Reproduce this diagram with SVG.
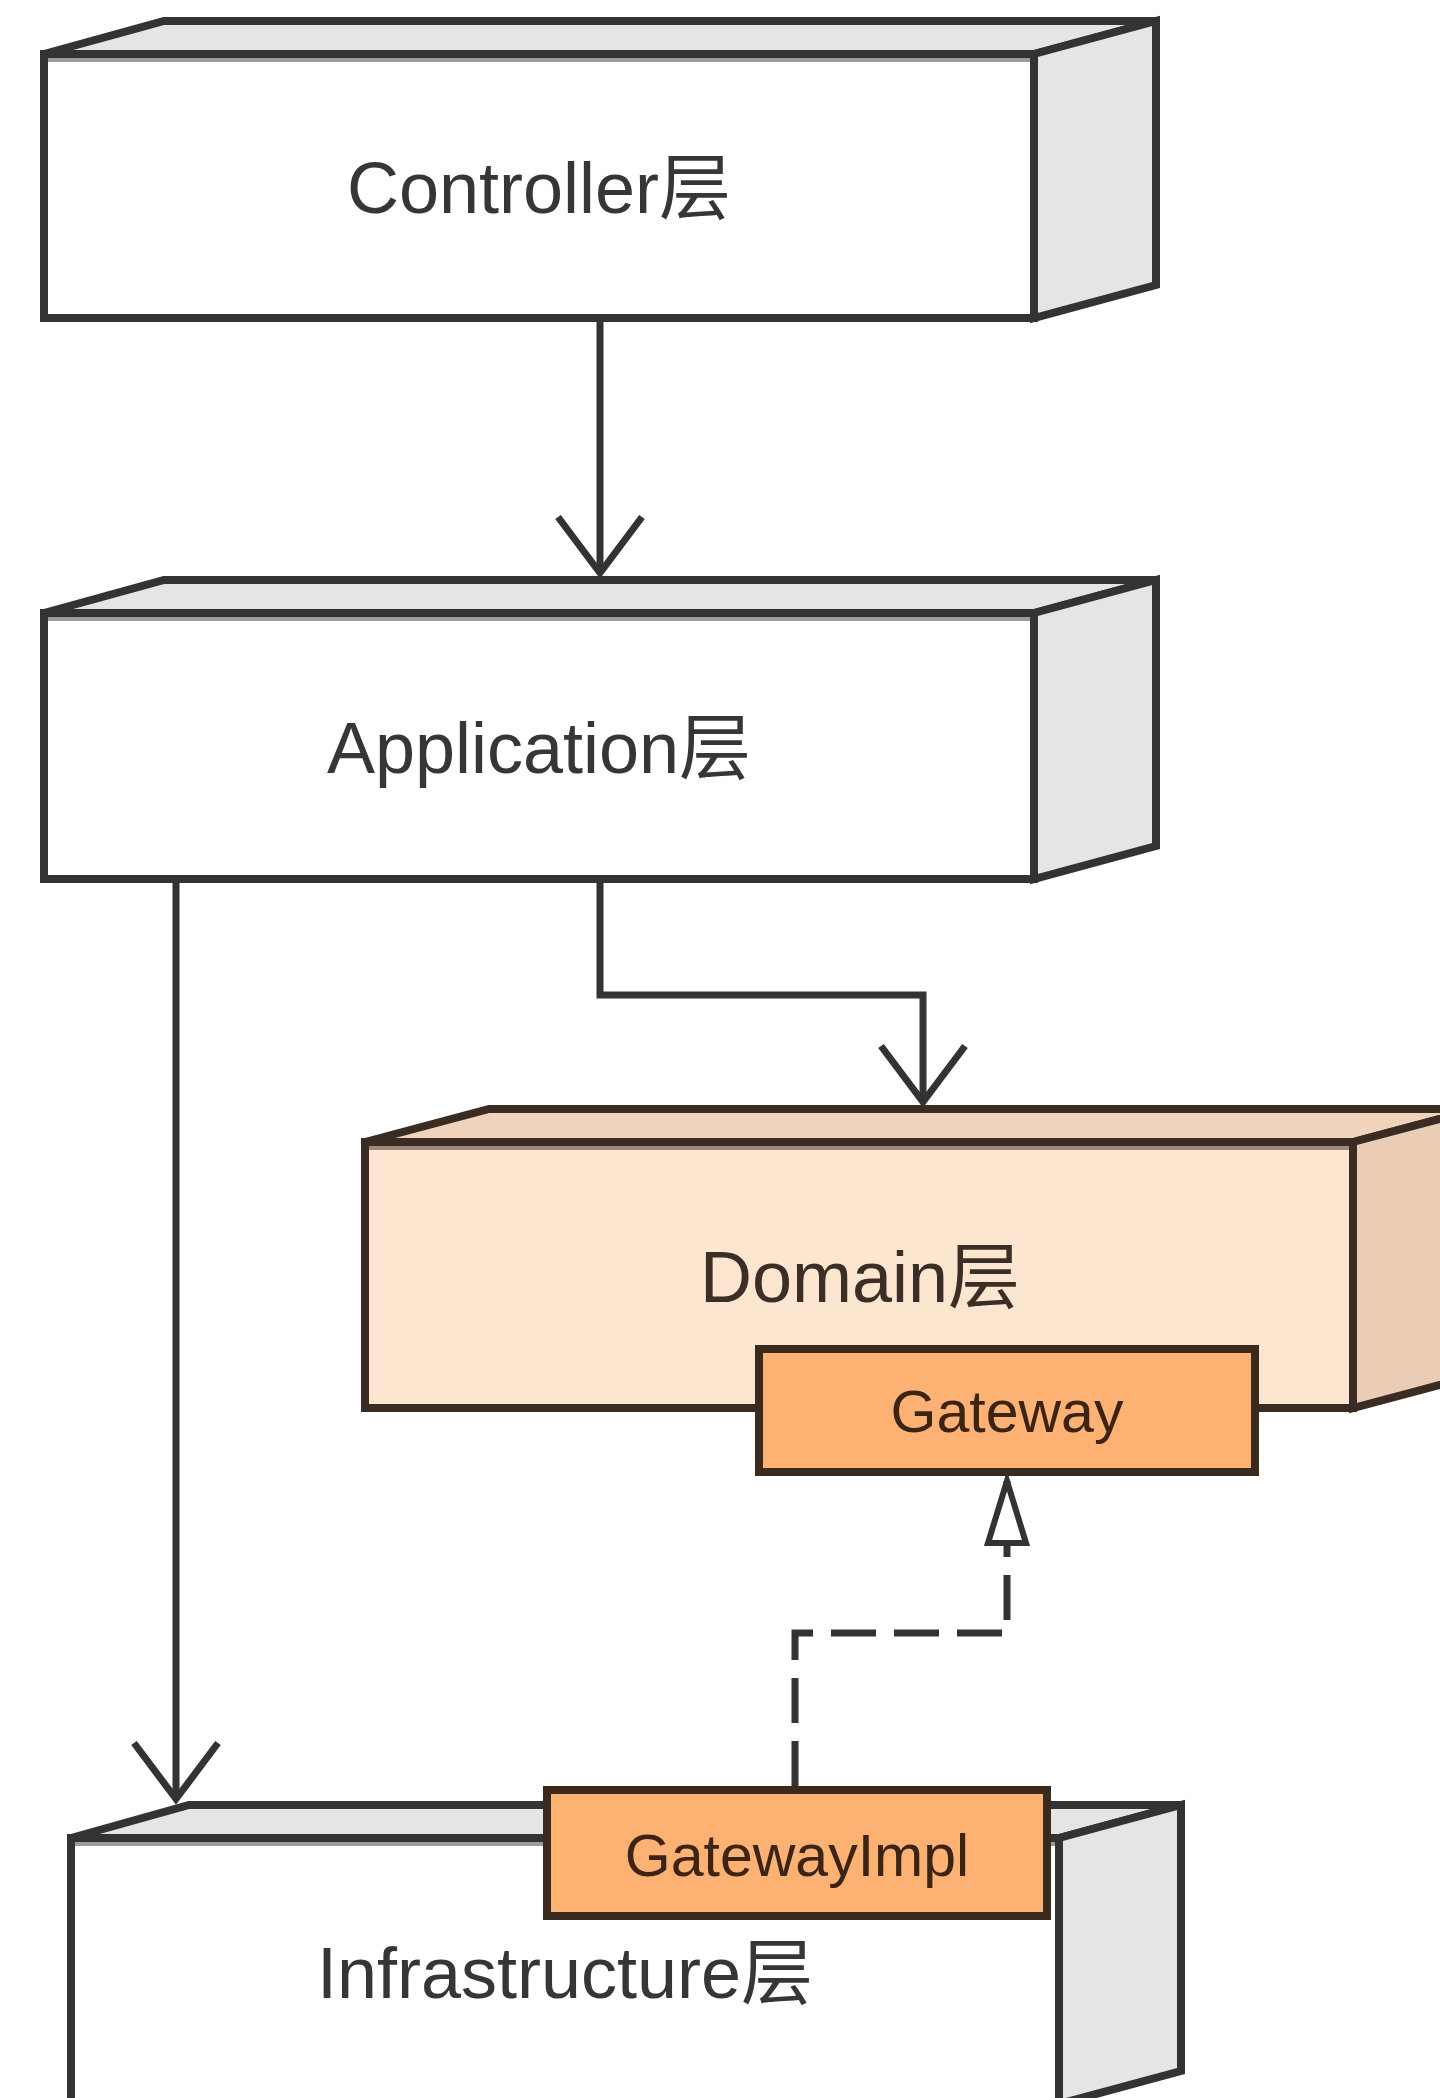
<svg xmlns="http://www.w3.org/2000/svg" width="1440" height="2098" viewBox="0 0 1440 2098">
  <style>
    .front { fill: #ffffff; stroke: #333333; stroke-width: 8; stroke-linejoin: miter; }
    .side { fill: #e5e5e5; stroke: #333333; stroke-width: 8; stroke-linejoin: miter; }
    .band { stroke: #9c9c9c; stroke-width: 4; }
    .d-front { fill: #fde6d0; stroke: #3a2c23; stroke-width: 8; stroke-linejoin: miter; }
    .d-top { fill: #f0d3bc; stroke: #3a2c23; stroke-width: 8; stroke-linejoin: miter; }
    .d-right { fill: #eacdb4; stroke: #3a2c23; stroke-width: 8; stroke-linejoin: miter; }
    .d-band { stroke: #9e8a7c; stroke-width: 4; }
    .port { fill: #fdb274; stroke: #3a2a1e; stroke-width: 8; }
    .label { font-family: "Liberation Sans", "Noto Sans CJK SC", sans-serif; font-size: 72px; fill: #363636; text-anchor: middle; }
    .d-label { fill: #3b2e26; }
    .port-label { font-family: "Liberation Sans", "Noto Sans CJK SC", sans-serif; font-size: 59px; fill: #3b2414; text-anchor: middle; }
    .conn { fill: none; stroke: #333333; stroke-width: 7; }
    .dashed { stroke-dasharray: 45 18; }
  </style>
  <defs>
    <marker id="open-arrow" markerUnits="userSpaceOnUse" viewBox="-64 -50 72 100" markerWidth="72" markerHeight="100" refX="0" refY="0" orient="auto" overflow="visible">
      <path d="M -56 -42 L 0 0 L -56 42" fill="none" stroke="#333333" stroke-width="7" stroke-linejoin="miter"/>
    </marker>
    <marker id="hollow-triangle" markerUnits="userSpaceOnUse" viewBox="-70 -30 80 60" markerWidth="80" markerHeight="60" refX="0" refY="0" orient="auto" overflow="visible">
      <path d="M 0 0 L -62 -19 L -62 19 Z" fill="#ffffff" stroke="#333333" stroke-width="6" stroke-linejoin="miter"/>
    </marker>
  </defs>

  <rect width="1440" height="2098" fill="#ffffff"/>

  <!-- Controller layer -->
  <g id="controller">
    <polygon class="side" points="44,54 164,21 1156,21 1034,54"/>
    <polygon class="side" points="1034,54 1156,21 1156,285 1034,318"/>
    <rect class="front" x="44" y="54" width="990" height="264"/>
    <line class="band" x1="48" y1="60" x2="1030" y2="60"/>
    <text class="label" x="539" y="213">Controller层</text>
  </g>

  <!-- Application layer -->
  <g id="application">
    <polygon class="side" points="44,613 164,580 1156,580 1034,613"/>
    <polygon class="side" points="1034,613 1156,580 1156,846 1034,879"/>
    <rect class="front" x="44" y="613" width="990" height="266"/>
    <line class="band" x1="48" y1="619" x2="1030" y2="619"/>
    <text class="label" x="539" y="773">Application层</text>
  </g>

  <!-- Domain layer with its Gateway port -->
  <g id="domain">
    <polygon class="d-top" points="365,1142 489,1109 1477,1109 1353,1142"/>
    <polygon class="d-right" points="1353,1142 1477,1109 1477,1375 1353,1408"/>
    <rect class="d-front" x="365" y="1142" width="988" height="266"/>
    <line class="d-band" x1="369" y1="1148" x2="1349" y2="1148"/>
    <text class="label d-label" x="860" y="1302">Domain层</text>
  </g>
  <g id="gateway">
    <rect class="port" x="759" y="1349" width="496" height="123"/>
    <text class="port-label" x="1007" y="1432">Gateway</text>
  </g>

  <!-- Infrastructure layer with its GatewayImpl port -->
  <g id="infrastructure">
    <polygon class="side" points="71,1838 189,1805 1181,1805 1059,1838"/>
    <polygon class="side" points="1059,1838 1181,1805 1181,2071 1059,2104"/>
    <rect class="front" x="71" y="1838" width="988" height="266"/>
    <line class="band" x1="75" y1="1844" x2="1055" y2="1844"/>
    <text class="label" x="565" y="1998">Infrastructure层</text>
  </g>
  <g id="gateway-impl">
    <rect class="port" x="547" y="1790" width="500" height="126"/>
    <text class="port-label" x="797" y="1876">GatewayImpl</text>
  </g>

  <!-- Dependencies between layers -->
  <g id="connectors">
    <path class="conn" d="M 600 322 V 573" marker-end="url(#open-arrow)"/>
    <path class="conn" d="M 176 883 V 1799" marker-end="url(#open-arrow)"/>
    <path class="conn" d="M 600 883 V 995 H 923 V 1102" marker-end="url(#open-arrow)"/>
    <path class="conn dashed" d="M 795 1786 V 1633 H 1007 V 1481" marker-end="url(#hollow-triangle)"/>
  </g>
</svg>
